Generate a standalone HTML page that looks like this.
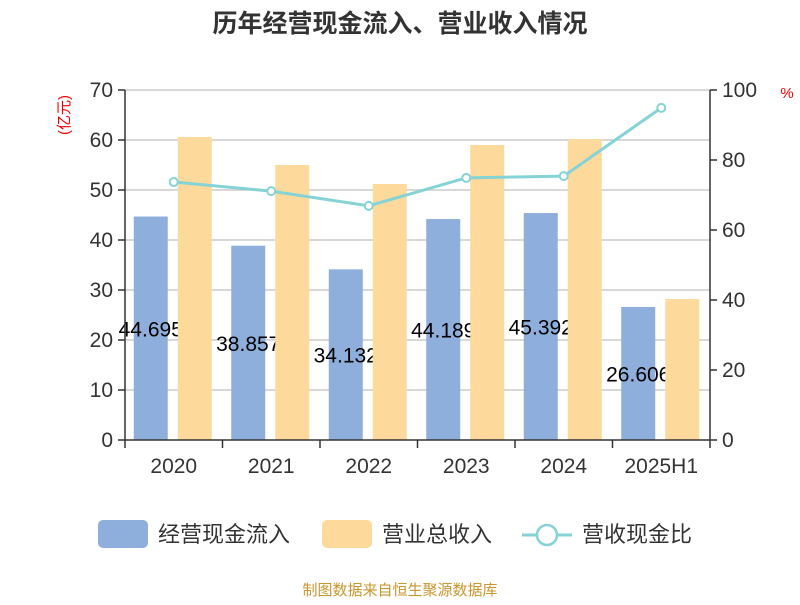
<!DOCTYPE html>
<html><head><meta charset="utf-8"><style>
body{margin:0;background:#fff;}
svg text{font-family:"Liberation Sans","Noto Sans CJK SC",sans-serif;}
</style></head><body>
<svg width="800" height="600" viewBox="0 0 800 600">
<text x="400" y="32" text-anchor="middle" font-size="25" font-weight="bold" fill="#333">历年经营现金流入、营业收入情况</text>
<text transform="translate(69,115) rotate(-90)" text-anchor="middle" font-size="15" fill="#e00">(亿元)</text>
<text x="787" y="98" text-anchor="middle" font-size="15" fill="#e00">%</text>
<g id="grid"></g><g id="bars"></g><g id="labels"></g><g id="bars2"></g><g id="line"></g><g id="axes"></g>
<g>
<rect x="98" y="520" width="50" height="28" rx="5" fill="#8eaedb"/>
<text x="158" y="542" font-size="22" fill="#333">经营现金流入</text>
<rect x="322" y="520" width="50" height="28" rx="5" fill="#fed99c"/>
<text x="382" y="542" font-size="22" fill="#333">营业总收入</text>
<line x1="522" y1="535" x2="572" y2="535" stroke="#85d3d5" stroke-width="3"/>
<circle cx="547" cy="535" r="10" fill="#fff" stroke="#85d3d5" stroke-width="2.5"/>
<text x="582" y="542" font-size="22" fill="#333">营收现金比</text>
</g>
<text x="400" y="595" text-anchor="middle" font-size="15" fill="#c8962c">制图数据来自恒生聚源数据库</text>
</svg>
<script>
const categories=["2020","2021","2022","2023","2024","2025H1"];
const inflow=[44.695,38.857,34.132,44.189,45.392,26.606];
const revenue=[60.6,55.0,51.2,59.0,60.2,28.2];
const ratio=[73.7,71.1,66.9,74.9,75.4,94.9];
const leftTicks=[0,10,20,30,40,50,60,70];
const rightTicks=[0,20,40,60,80,100];
const NS="http://www.w3.org/2000/svg";
const L=125,R=710,T=90,B=440;
const yL=v=>B-(v/70)*(B-T);
const yR=v=>B-(v/100)*(B-T);
const bw=(R-L)/categories.length;
const xc=i=>L+bw*(i+0.5);
function mk(tag,attrs,parent,text){const e=document.createElementNS(NS,tag);for(const k in attrs)e.setAttribute(k,attrs[k]);if(text!=null)e.textContent=text;document.getElementById(parent).appendChild(e);return e;}
leftTicks.forEach(t=>{
 if(t>0){const g=mk('line',{x1:L,x2:R,y1:yL(t),y2:yL(t),stroke:'#ccc','stroke-width':1.5},'grid');
 
 }
 const tk=mk('line',{x1:L-7,x2:L,y1:yL(t),y2:yL(t),stroke:'#333','stroke-width':1.5},'axes');
 
 
 const tx=mk('text',{x:L-12,y:yL(t)+7,'text-anchor':'end','font-size':21,fill:'#333'},'axes',t);
 
 
});
rightTicks.forEach(t=>{
 const tk=mk('line',{x1:R,x2:R+7,y1:yR(t),y2:yR(t),stroke:'#333','stroke-width':1.5},'axes');
 
 
 const tx=mk('text',{x:R+12,y:yR(t)+7,'font-size':21,fill:'#333'},'axes',t);
 
 
});
const la=mk('line',{x1:L,x2:L,y1:T,y2:B,stroke:'#333','stroke-width':1.5},'axes');


const ra=mk('line',{x1:R,x2:R,y1:T,y2:B,stroke:'#333','stroke-width':1.5},'axes');


const xa=mk('line',{x1:L,x2:R,y1:B,y2:B,stroke:'#333','stroke-width':1.5},'axes');


for(let i=0;i<=categories.length;i++){
 const tk=mk('line',{x1:L+bw*i,x2:L+bw*i,y1:B,y2:B+8,stroke:'#333','stroke-width':1.5},'axes');
 
 
}
categories.forEach((c,i)=>{
 const tx=mk('text',{x:xc(i),y:B+33,'text-anchor':'middle','font-size':21,fill:'#333'},'axes',c);
 
 
 const b=mk('rect',{x:xc(i)-40,y:yL(inflow[i]),width:34,height:B-yL(inflow[i]),fill:'#8eaedb'},'bars');
 
 
 const lb=mk('text',{x:xc(i)-23,y:(yL(inflow[i])+B)/2+8,'text-anchor':'middle','font-size':21,fill:'#000'},'labels',inflow[i].toFixed(3));
 
 
 const o=mk('rect',{x:xc(i)+4,y:yL(revenue[i]),width:34,height:B-yL(revenue[i]),fill:'#fed99c'},'bars2');
 
 
});
const pl=mk('polyline',{points:ratio.map((v,i)=>xc(i)+','+yR(v)).join(' '),fill:'none',stroke:'#85d3d5','stroke-width':3},'line');


ratio.forEach((v,i)=>{
 const c=mk('circle',{cx:xc(i),cy:yR(v),r:4,fill:'#fff',stroke:'#85d3d5','stroke-width':2},'line');
 
 
});
</script>
</body></html>
